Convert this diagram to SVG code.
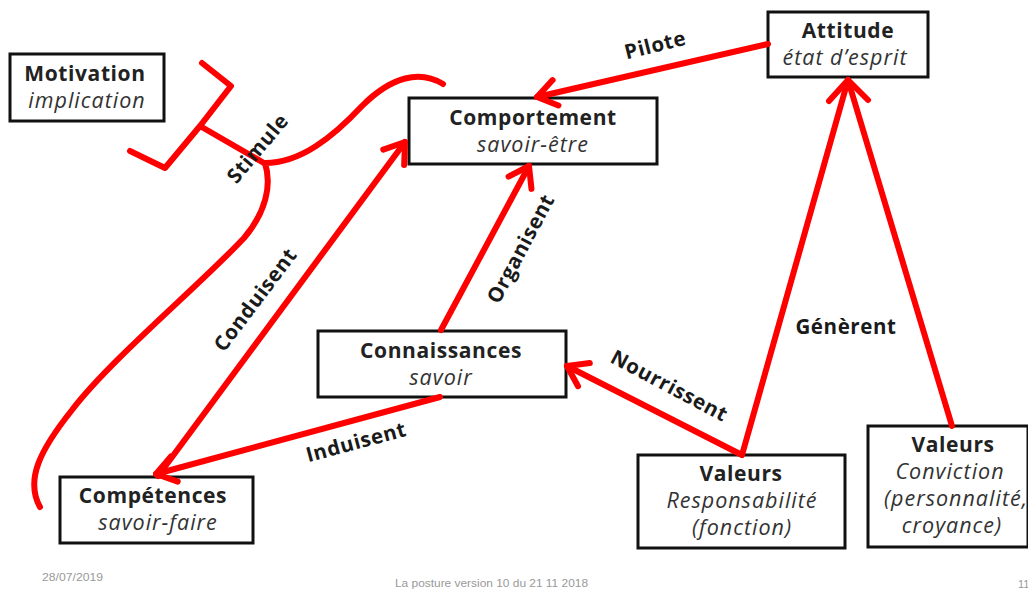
<svg xmlns="http://www.w3.org/2000/svg" width="1028" height="589" viewBox="0 0 1028 589">
<style>
.box{fill:#fff;stroke:#111;stroke-width:3}
.t{font-family:"Open Sans","Liberation Sans",sans-serif;font-size:21px;font-weight:bold;fill:#222;text-anchor:middle;letter-spacing:0.6px}
.s{font-family:"Open Sans","Liberation Sans",sans-serif;font-size:21.5px;font-style:italic;fill:#333;text-anchor:middle;letter-spacing:1px}
.lbl{font-family:"Open Sans","Liberation Sans",sans-serif;font-size:20.5px;font-weight:bold;fill:#1a1a1a;text-anchor:middle;letter-spacing:0.6px}
.c{fill:none;stroke:#ff0000;stroke-width:6;stroke-linecap:round;stroke-linejoin:round}
.ft{font-family:"Liberation Sans Narrow","Liberation Sans",sans-serif;font-size:11px;fill:#999}
</style>
<defs>
<marker id="ah" markerUnits="userSpaceOnUse" markerWidth="34" markerHeight="36" viewBox="-28 -18 34 36" refX="0" refY="0" orient="auto">
<path d="M-19,-13 L0,0 L-19,13" fill="none" stroke="#ff0000" stroke-width="6" stroke-linecap="round" stroke-linejoin="round"/>
</marker>
</defs>
<g id="motivation">
<rect class="box" x="10" y="54" width="154" height="67"/>
<text class="t" x="85" y="81">Motivation</text>
<text class="s" x="87" y="108">implication</text>
</g>
<g id="comportement">
<rect class="box" x="409" y="98" width="248" height="66"/>
<text class="t" x="533" y="125">Comportement</text>
<text class="s" x="533" y="152">savoir-être</text>
</g>
<g id="attitude">
<rect class="box" x="768" y="12" width="160" height="65"/>
<text class="t" x="848" y="38">Attitude</text>
<text class="s" x="845" y="65">état d’esprit</text>
</g>
<g id="connaissances">
<rect class="box" x="318" y="331" width="248" height="66"/>
<text class="t" x="441" y="358">Connaissances</text>
<text class="s" x="441" y="385">savoir</text>
</g>
<g id="competences">
<rect class="box" x="60" y="477" width="193" height="66"/>
<text class="t" x="153" y="503">Compétences</text>
<text class="s" x="158" y="530">savoir-faire</text>
</g>
<g id="valeurs-responsabilite">
<rect class="box" x="638" y="455" width="207" height="93"/>
<text class="t" x="741" y="481">Valeurs</text>
<text class="s" x="742" y="508">Responsabilité</text>
<text class="s" x="742" y="535">(fonction)</text>
</g>
<g id="valeurs-conviction">
<rect class="box" x="868" y="426" width="160" height="121"/>
<text class="t" x="953" y="452">Valeurs</text>
<text class="s" x="950" y="479">Conviction</text>
<text class="s" x="956" y="506">(personnalité,</text>
<text class="s" x="952" y="533">croyance)</text>
</g>
<g id="connectors">
<path class="c" d="M202,63 L231,86 L200,126 L264,163 M200,126 L165,168 L130,151"/>
<path class="c" d="M443,84 C420,70 392,76 362,106 C332,138 300,163 265,163 C272,185 266,212 244,238 C200,285 110,360 72,410 C40,450 25,480 40,507"/>
<line class="c" x1="768" y1="44" x2="537" y2="97" marker-end="url(#ah)"/>
<line class="c" x1="742" y1="455" x2="848" y2="80"/>
<line class="c" x1="952" y1="426" x2="848" y2="80"/>
<path class="c" d="M829,101 L848,80 L868,100"/>
<line class="c" x1="742" y1="455" x2="567" y2="366" marker-end="url(#ah)"/>
<line class="c" x1="441" y1="330" x2="529" y2="166" marker-end="url(#ah)"/>
<line class="c" x1="158" y1="476" x2="405" y2="142" marker-end="url(#ah)"/>
<line class="c" x1="440" y1="397" x2="156" y2="474" marker-end="url(#ah)"/>
<text class="lbl" transform="translate(657,52) rotate(-14)">Pilote</text>
<text class="lbl" x="846" y="334">Génèrent</text>
<text class="lbl" transform="translate(666,392) rotate(28)">Nourrissent</text>
<text class="lbl" transform="translate(527,252) rotate(-62)">Organisent</text>
<text class="lbl" transform="translate(261,304) rotate(-53)">Conduisent</text>
<text class="lbl" transform="translate(358,449) rotate(-15)">Induisent</text>
<text class="lbl" transform="translate(263,153) rotate(-50)">Stimule</text>
</g>
<g id="footer">
<text class="ft" x="42" y="581" textLength="61" lengthAdjust="spacingAndGlyphs">28/07/2019</text>
<text class="ft" x="395" y="587" textLength="193" lengthAdjust="spacingAndGlyphs">La posture version 10  du 21 11 2018</text>
<text class="ft" x="1018" y="588">11</text>
</g>
</svg>
